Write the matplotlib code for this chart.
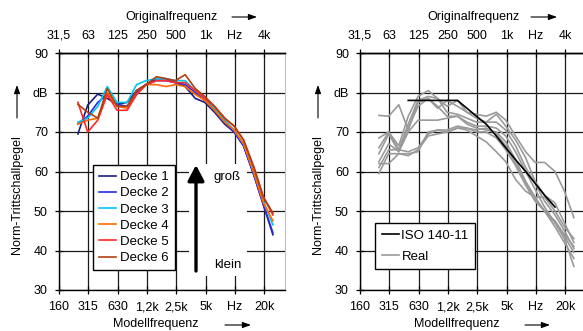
import matplotlib
matplotlib.use('Agg')
import matplotlib.pyplot as plt
from matplotlib.patches import Rectangle
from matplotlib.lines import Line2D
from matplotlib.ticker import NullLocator

plt.rcParams['font.family'] = ['Liberation Sans', 'DejaVu Sans']
plt.rcParams['font.size'] = 9

# ---------------- data ----------------
bands = [250, 315, 400, 500, 630, 800, 1000, 1250, 1600, 2000, 2500,
         3150, 4000, 5000, 6300, 8000, 10000, 12500, 16000, 20000, 25000]

decke1 = [69.5, 76.8, 79.6, 78.5, 77.0, 77.5, 80.5, 82.0, 83.5, 83.5, 82.5,
          81.5, 78.5, 77.5, 75.0, 72.0, 70.0, 66.5, 59.0, 51.5, 44.0]
decke2 = [72.0, 74.0, 77.5, 79.5, 77.0, 76.5, 80.0, 82.0, 83.0, 83.0, 82.5,
          82.0, 80.0, 78.0, 75.5, 72.5, 70.0, 66.5, 59.0, 51.5, 44.5]
decke3 = [72.5, 73.5, 76.5, 81.5, 77.5, 77.5, 82.0, 83.0, 83.5, 83.5, 83.0,
          83.0, 80.5, 78.5, 76.0, 73.0, 70.5, 67.0, 60.0, 52.5, 46.5]
decke4 = [72.0, 73.0, 73.5, 80.0, 76.5, 76.0, 79.5, 82.0, 82.0, 81.5, 82.0,
          81.5, 79.5, 78.0, 75.5, 72.5, 70.5, 67.0, 59.5, 52.0, 47.5]
decke5 = [77.5, 70.0, 73.0, 79.5, 75.5, 75.5, 79.5, 82.0, 83.0, 83.0, 82.5,
          82.5, 80.5, 78.5, 76.5, 73.5, 71.5, 68.0, 61.0, 53.5, 49.0]
decke6 = [77.0, 75.0, 73.5, 81.0, 76.5, 76.5, 80.5, 82.0, 84.0, 83.5, 83.0,
          84.5, 81.0, 79.0, 76.5, 73.5, 71.5, 68.0, 61.0, 53.5, 49.5]
decke_labels = ['Decke 1', 'Decke 2', 'Decke 3', 'Decke 4', 'Decke 5', 'Decke 6']

iso_bands = [500, 630, 800, 1000, 1250, 1600, 2000, 2500, 3150, 4000,
             5000, 6300, 8000, 10000, 12500, 16000]
iso_values = [78, 78, 78, 78, 78, 78, 76, 74, 72, 69, 66, 63, 60, 57, 54, 51]

real1 = [74.2, 74.0, 76.9, 70.5, 77.5, 78.5, 76.0, 78.0, 76.5, 75.0, 73.5,
         72.5, 74.5, 71.5, 68.0, 63.5, 57.5, 54.0, 52.0, 47.0, 42.0]
real2 = [68.5, 70.0, 66.5, 74.0, 79.0, 80.5, 78.5, 76.5, 78.0, 75.0, 74.5,
         74.0, 75.0, 73.0, 69.0, 65.0, 62.3, 62.3, 60.0, 55.0, 48.3]
real3 = [66.0, 70.0, 65.5, 72.0, 78.0, 79.0, 78.5, 75.0, 74.5, 73.5, 72.5,
         72.5, 72.5, 70.5, 66.5, 61.0, 57.0, 52.5, 49.0, 45.0, 40.5]
real4 = [64.5, 69.5, 65.0, 71.0, 76.5, 78.5, 76.5, 74.0, 74.0, 72.5, 71.5,
         71.5, 71.0, 69.0, 65.0, 60.0, 55.5, 51.0, 47.0, 43.5, 39.5]
real5 = [62.5, 67.0, 65.0, 70.0, 73.0, 73.0, 73.0, 73.5, 74.0, 72.0, 71.0,
         70.5, 70.0, 67.5, 63.0, 57.5, 53.5, 53.5, 50.0, 46.0, 43.0]
real6 = [61.0, 65.5, 65.5, 65.0, 66.0, 69.5, 70.5, 70.5, 71.5, 71.0, 70.5,
         71.0, 69.5, 66.5, 62.0, 57.0, 53.0, 50.0, 47.5, 44.0, 41.0]
real7 = [59.5, 64.5, 64.5, 64.5, 65.0, 70.0, 70.5, 70.0, 71.0, 71.0, 70.0,
         70.0, 68.5, 65.5, 61.5, 56.5, 52.5, 50.0, 47.0, 43.0, 36.0]
real8 = [62.0, 62.0, 64.5, 64.0, 65.5, 69.0, 69.5, 70.0, 71.0, 70.5, 69.0,
         67.5, 65.0, 62.5, 58.0, 55.0, 53.5, 50.0, 46.0, 42.0, 38.0]

tick_freqs = [160, 320, 640, 1280, 2560, 5120, 10240, 20480]
model_labels = ['160', '315', '630', '1,2k', '2,5k', '5k', 'Hz', '20k']
orig_labels = ['31,5', '63', '125', '250', '500', '1k', 'Hz', '4k']
y_ticks = [30, 40, 50, 60, 70, 80, 90]
y_labels = ['30', '40', '50', '60', '70', 'dB', '90']

decke_colors = ['#1c1c80', '#2a2ae6', '#00c8f5', '#ff6a00', '#ff2a2a', '#b04010']

# ---------------- figure ----------------
W, H = 583, 331
fig = plt.figure(figsize=(W / 100, H / 100), dpi=100)


def pbox(l, t, r, b):
    return [l / W, 1 - b / H, (r - l) / W, (b - t) / H]


def fp(x, y):
    return (x / W, 1 - y / H)


axL = fig.add_axes(pbox(59, 53, 285, 290))
axR = fig.add_axes(pbox(360, 53, 586, 290))


def style(ax):
    ax.set_xscale('log', base=2)
    ax.set_xlim(160, 160 * 2 ** 7.7)
    ax.set_ylim(30, 90)
    ax.set_xticks(tick_freqs)
    ax.set_xticklabels(model_labels)
    ax.xaxis.set_minor_locator(NullLocator())
    ax.set_yticks(y_ticks)
    ax.set_yticklabels(y_labels)
    ax.grid(True, color='#1a1a1a', lw=0.9)
    ax.tick_params(direction='inout', length=6, width=0.9, labelsize=9, pad=5)
    for s in ['left', 'bottom', 'top']:
        ax.spines[s].set_color('black')
        ax.spines[s].set_linewidth(1.0)
    ax.spines['right'].set_color('#c0c0c0')
    top = ax.twiny()
    top.set_xscale('log', base=2)
    top.set_xlim(ax.get_xlim())
    top.set_xticks(tick_freqs)
    top.set_xticklabels(orig_labels)
    top.xaxis.set_minor_locator(NullLocator())
    top.tick_params(direction='inout', length=6, width=0.9, labelsize=9, pad=5)
    for s in ['left', 'bottom', 'right']:
        top.spines[s].set_visible(False)
    top.spines['top'].set_linewidth(1.0)


style(axL)
style(axR)

# left panel curves
handles = []
for vals, col, lab in zip([decke1, decke2, decke3, decke4, decke5, decke6],
                          decke_colors, decke_labels):
    h, = axL.plot(bands, vals, color=col, lw=1.2, label=lab, zorder=2)
    handles.append(h)

legL = axL.legend(handles=handles, loc='upper left', bbox_to_anchor=fp(93, 165),
                  bbox_transform=fig.transFigure, fancybox=False, framealpha=1,
                  edgecolor='black', fontsize=9.5, handlelength=1.3,
                  handletextpad=0.3, labelspacing=0.3, borderpad=0.45,
                  borderaxespad=0)
legL.get_frame().set_linewidth(1.0)

# white box behind arrow annotation
axL.add_patch(Rectangle(fp(189, 276), (247 - 189) / W, (276 - 164) / H,
                        transform=fig.transFigure, facecolor='white',
                        edgecolor='none', zorder=1.8))
axL.annotate('', xy=fp(196, 165), xytext=fp(196, 271), xycoords='figure fraction',
             textcoords='figure fraction',
             arrowprops=dict(arrowstyle='-|>,head_length=0.95,head_width=0.5',
                             lw=2.4, color='black', mutation_scale=10,
                             shrinkA=0, shrinkB=0), zorder=3)
fig.text(*fp(214, 177), 'groß', fontsize=9.5, ha='left', va='center')
fig.text(*fp(214, 265), 'klein', fontsize=9.5, ha='left', va='center')

# right panel curves
for vals in [real1, real2, real3, real4, real5, real6, real7, real8]:
    axR.plot(bands, vals, color='#9a9a9a', lw=1.2, zorder=2)
hiso, = axR.plot(iso_bands, iso_values, color='black', lw=1.2, zorder=3)
hreal = Line2D([], [], color='#9a9a9a', lw=1.2)
legR = axR.legend([hiso, hreal], ['ISO 140-11', 'Real'], loc='upper left',
                  bbox_to_anchor=fp(375, 223), bbox_transform=fig.transFigure,
                  fancybox=False, framealpha=1, edgecolor='black', fontsize=9.5,
                  handlelength=1.3, handletextpad=0.2, labelspacing=0.65,
                  borderpad=0.5, borderaxespad=0)
legR.get_frame().set_linewidth(1.0)

# axis titles with arrows
small_arrow = dict(arrowstyle='-|>,head_length=0.5,head_width=0.18', lw=0.8,
                   color='black', mutation_scale=10, shrinkA=0, shrinkB=0)
for cx, ax0, ax1 in [(172, 232, 257), (473, 531, 557)]:
    fig.text(*fp(cx, 17), 'Originalfrequenz', fontsize=9, ha='center', va='center')
    fig.add_artist(matplotlib.patches.FancyArrowPatch(
        fp(ax0, 17), fp(ax1, 17), transform=fig.transFigure, **small_arrow))
for cx, ax0, ax1 in [(156, 225, 251), (457, 525, 550)]:
    fig.text(*fp(cx, 324), 'Modellfrequenz', fontsize=9, ha='center', va='center')
    fig.add_artist(matplotlib.patches.FancyArrowPatch(
        fp(ax0, 325), fp(ax1, 325), transform=fig.transFigure, **small_arrow))
for cx in [17, 318]:
    fig.text(*fp(cx, 195), 'Norm-Trittschallpegel', fontsize=9, ha='center',
             va='center', rotation=90)
    fig.add_artist(matplotlib.patches.FancyArrowPatch(
        fp(cx, 118), fp(cx, 85), transform=fig.transFigure, **small_arrow))

fig.savefig('out.png', dpi=100)
